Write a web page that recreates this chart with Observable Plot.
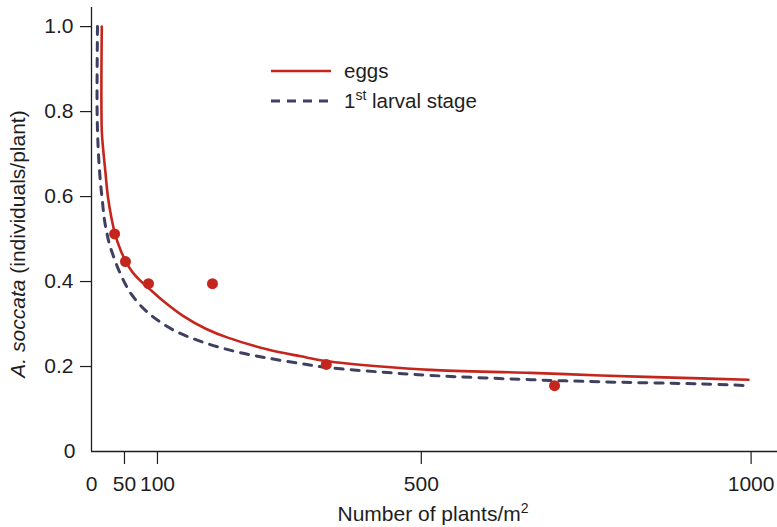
<!DOCTYPE html>
<html><head><meta charset="utf-8">
<script src="https://cdn.jsdelivr.net/npm/d3@7"></script>
<script src="https://cdn.jsdelivr.net/npm/@observablehq/plot@0.6"></script>
<style>body{margin:0;background:#fff;} #chart{width:777px;height:527px;}</style>
</head><body><div id="chart"></div>
<script>
const xTicks = [50, 100, 500, 1000];
const yTicks = [0.2, 0.4, 0.6, 0.8, 1.0];

// observed points (eggs)
const dotX = [35, 51.5, 86.4, 183.4, 356, 702];
const dotY = [0.512, 0.447, 0.395, 0.395, 0.205, 0.155];

// fitted curve, eggs
const eggsX = [15.6, 15.6, 17.9, 20.9, 24.7, 29.6, 35.6, 43.1, 52.1, 62.7, 74.8, 86.9, 105.1, 139.9, 173.3, 206.6, 267.3, 317.3, 355.2, 438.6, 514.4, 666, 772, 923.6, 996];
const eggsY = [1.0, 0.755, 0.708, 0.661, 0.602, 0.555, 0.513, 0.478, 0.447, 0.421, 0.401, 0.384, 0.359, 0.318, 0.289, 0.268, 0.240, 0.224, 0.213, 0.2, 0.192, 0.185, 0.179, 0.172, 0.169];

// fitted curve, 1st larval stage
const larvaX = [9.1, 8.5, 10.3, 13.3, 16.4, 19.4, 23.2, 27.0, 31.8, 39.4, 49.4, 59.6, 77.3, 94.9, 125.2, 165.7, 216.2, 266.8, 317.3, 355.2, 438.6, 514.4, 666, 772, 923.6, 998];
const larvaY = [1.0, 0.8, 0.708, 0.638, 0.591, 0.548, 0.515, 0.489, 0.466, 0.434, 0.400, 0.372, 0.339, 0.315, 0.285, 0.259, 0.236, 0.220, 0.207, 0.198, 0.187, 0.179, 0.169, 0.164, 0.159, 0.155];

const seriesNames = ["eggs", "1st larval stage"];
const RED = "#c4261d", NAVY = "#3f405f", INK = "#1e1e1e";

const dots = dotX.map((x, i) => ({x, y: dotY[i]}));
const eggs = eggsX.map((x, i) => ({x, y: eggsY[i]}));
const larva = larvaX.map((x, i) => ({x, y: larvaY[i]}));

const plot = Plot.plot({
  width: 777, height: 527,
  marginLeft: 91, marginRight: 0, marginTop: 7, marginBottom: 76,
  x: {domain: [0, 1040]},
  y: {domain: [0, 1.045]},
  style: {fontFamily: "'Liberation Sans', Arial, sans-serif", fontSize: "21px", color: INK, background: "#fff"},
  marks: [
    Plot.ruleY([0], {stroke: INK, strokeWidth: 1.3}),
    Plot.ruleX([0], {stroke: INK, strokeWidth: 1.3}),
    Plot.axisY(yTicks, {tickSize: 11, tickPadding: 7, tickFormat: d3.format(".1f"), label: null, strokeWidth: 1.2}),
    Plot.axisY([0], {tickSize: 0, tickPadding: 16, tickFormat: d => String(d), label: null}),
    Plot.axisX(xTicks, {tickSize: 13, tickPadding: 12, tickFormat: d => String(d), label: null, strokeWidth: 1.2}),
    Plot.axisX([0], {tickSize: 0, tickPadding: 25, tickFormat: d => String(d), label: null}),
    Plot.line(larva, {x: "x", y: "y", stroke: NAVY, strokeWidth: 3, strokeDasharray: "8,8", curve: "catmull-rom"}),
    Plot.line(eggs, {x: "x", y: "y", stroke: RED, strokeWidth: 2.6, curve: "catmull-rom"}),
    Plot.dot(dots, {x: "x", y: "y", r: 5.5, fill: RED, stroke: "none"})
  ]
});

const svg = d3.select(plot);
const font = "'Liberation Sans', Arial, sans-serif";

// y axis title
const yl = svg.append("text")
  .attr("transform", "translate(25,244) rotate(-90)")
  .attr("text-anchor", "middle").attr("fill", INK)
  .style("font-family", font).style("font-size", "21px");
yl.append("tspan").attr("font-style", "italic").text("A. soccata");
yl.append("tspan").text(" (individuals/plant)");

// x axis title
const xl = svg.append("text")
  .attr("x", 433).attr("y", 521).attr("text-anchor", "middle").attr("fill", INK)
  .style("font-family", font).style("font-size", "21px");
xl.append("tspan").text("Number of plants/m");
xl.append("tspan").attr("dy", -8).style("font-size", "14px").text("2");

// legend
const lg = svg.append("g").attr("text-anchor", "start").style("font-family", font).style("font-size", "20.5px");
lg.append("line").attr("x1", 271).attr("x2", 331).attr("y1", 71).attr("y2", 71)
  .attr("stroke", RED).attr("stroke-width", 2.6);
lg.append("text").attr("x", 344).attr("y", 78).attr("text-anchor", "start").attr("fill", INK).text(seriesNames[0]);
lg.append("line").attr("x1", 271).attr("x2", 331).attr("y1", 101).attr("y2", 101)
  .attr("stroke", NAVY).attr("stroke-width", 3).attr("stroke-dasharray", "9,7");
const t2 = lg.append("text").attr("x", 344).attr("y", 108).attr("text-anchor", "start").attr("fill", INK);
t2.append("tspan").text("1");
t2.append("tspan").attr("dy", -8).style("font-size", "14px").text("st");
t2.append("tspan").attr("dy", 8).text(" larval stage");

document.getElementById("chart").append(plot);
</script>
</body></html>
